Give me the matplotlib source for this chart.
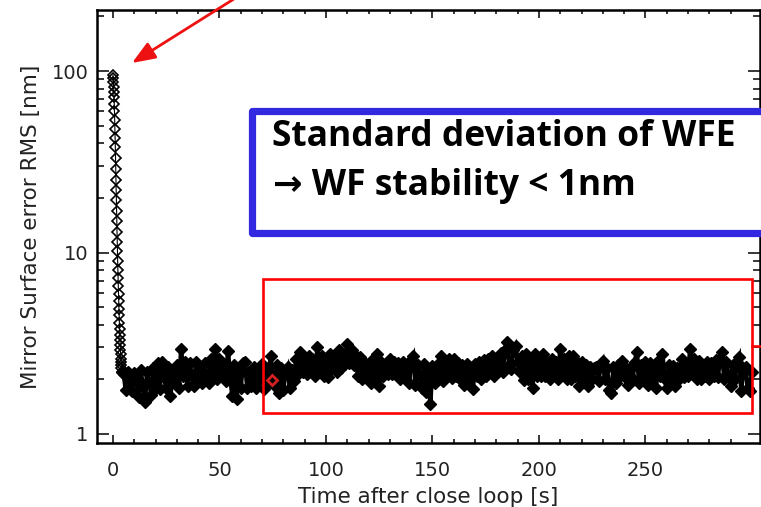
import matplotlib
matplotlib.use("Agg")
import matplotlib.pyplot as plt
import numpy as np
from matplotlib.patches import Rectangle
from matplotlib.lines import Line2D
from matplotlib.ticker import FixedLocator, NullFormatter

# closing transient, sampled every 0.1 s from t = 0
t_decay_start = 0.0
t_decay_step = 0.1
rms_decay = [95, 91, 87, 82, 77, 72, 66, 60, 54, 48,
             43, 38, 33, 29, 25, 22, 19.5, 17, 15, 13,
             11.5, 10.2, 9.0, 8.0, 7.2, 6.5, 5.9, 5.4, 4.9, 4.5,
             4.1, 3.8, 3.5, 3.3, 3.1, 2.9, 2.75, 2.6, 2.5, 2.4,
             2.3, 2.2]

# closed loop residual, one value per second from t = 5 s
t_loop_start = 5
rms_loop = [
    2.15, 1.75, 2.2, 1.95, 1.72, 2.18, 2.0, 1.6, 2.25, 1.85,
    1.5, 2.2, 1.9, 1.65, 2.3, 1.8, 2.45, 1.78, 2.5, 2.05,
    1.8, 2.35, 1.62, 2.2, 1.9, 2.4, 1.8, 2.95, 2.1, 2.5,
    1.85, 2.45, 2.1, 1.85, 2.5, 2.0, 2.35, 1.9, 2.45, 2.1,
    1.9, 2.6, 2.2, 2.95, 2.0, 2.6, 2.1, 2.4, 1.95, 2.87,
    2.1, 1.62, 2.4, 1.56, 2.2, 1.8, 2.45, 2.5, 1.8, 2.2,
    1.85, 2.34, 1.8, 2.25, 2.0, 2.43, 1.78, 2.3, 1.9, 2.7,
    2.0, 1.85, 2.4, 1.68, 2.3, 1.75, 2.2, 2.34, 1.8, 2.25,
    1.95, 2.6, 2.15, 2.84, 2.2, 2.6, 2.15, 2.7, 2.3, 2.5,
    2.1, 3.03, 2.3, 2.7, 2.1, 2.6, 2.05, 2.77, 2.3, 2.6,
    2.2, 2.9, 2.3, 2.7, 2.5, 3.14, 2.45, 2.9, 2.4, 2.7,
    2.1, 2.66, 2.0, 2.5, 2.2, 2.4, 1.9, 2.6, 2.1, 2.77,
    1.84, 2.5, 2.1, 2.4, 2.15, 2.6, 2.14, 2.5, 2.2, 2.45,
    2.0, 2.5, 2.05, 2.4, 1.9, 2.55, 2.7, 1.86, 2.4, 2.1,
    1.8, 2.43, 1.7, 2.2, 1.46, 2.37, 1.9, 2.4, 2.1, 2.7,
    1.96, 2.5, 2.2, 2.6, 2.04, 2.6, 2.1, 2.45, 2.0, 2.4,
    1.87, 2.43, 2.0, 2.3, 1.77, 2.43, 2.1, 2.5, 2.0, 2.56,
    2.1, 2.6, 2.2, 2.7, 2.1, 2.55, 2.3, 2.8, 2.2, 2.9,
    3.22, 2.4, 2.29, 2.9, 3.06, 2.5, 2.2, 2.7, 1.99, 2.77,
    2.0, 2.5, 1.8, 2.77, 2.1, 2.6, 2.1, 2.77, 2.09, 2.5,
    2.0, 2.6, 2.2, 2.5, 2.0, 2.95, 2.2, 2.6, 2.0, 2.7,
    2.0, 2.7, 2.1, 2.5, 1.85, 2.5, 2.0, 2.4, 1.84, 2.35,
    2.0, 2.3, 2.34, 1.95, 2.4, 2.53, 2.0, 2.3, 1.75, 1.68,
    2.34, 1.9, 2.4, 2.09, 2.53, 2.1, 2.3, 1.87, 2.34, 2.0,
    2.5, 2.84, 1.9, 2.4, 2.1, 2.5, 1.87, 2.45, 2.0, 2.3,
    1.8, 2.53, 2.1, 2.77, 2.0, 1.8, 2.4, 2.0, 2.37, 1.84,
    2.3, 2.0, 2.6, 2.05, 2.4, 2.1, 2.95, 2.2, 2.6, 2.0,
    2.53, 2.0, 2.4, 2.1, 2.5, 2.0, 2.45, 2.1, 2.55, 2.05,
    2.6, 2.84, 2.0, 2.5, 2.1, 1.84, 2.4, 2.0, 2.5, 2.66,
    1.73, 2.3, 2.34, 1.8, 1.73, 2.2]

# highlighted sample
marked_t = 74.5
marked_rms = 1.99

x_major = [0, 50, 100, 150, 200, 250]
y_major = [1, 10, 100]
y_major_labels = ["1", "10", "100"]

t_decay = t_decay_start + t_decay_step * np.arange(len(rms_decay))
t_loop = t_loop_start + np.arange(len(rms_loop))

W, H = 761, 507


def fx(x):
    return x / W


def fy(y):
    return (H - y) / H


fig = plt.figure(figsize=(W / 100, H / 100), dpi=100)
ax = fig.add_axes([fx(97), fy(443), (760 - 97) / W, (443 - 10) / H])

ax.plot(t_decay, rms_decay, color="black", lw=0.8, marker="D", ms=4.8,
        mfc="none", mec="black", mew=1.2)
# the loop samples are so dense that they merge into a solid band
ax.plot(np.r_[t_decay[-1], t_loop], np.r_[rms_decay[-1], rms_loop],
        color="black", lw=3.2, marker="D", ms=6.2, mfc="black",
        mec="black", mew=1.0, solid_joinstyle="miter")
ax.plot([marked_t], [marked_rms], marker="D", ms=5, mfc="none",
        mec="#d42020", mew=2.0, ls="none")

ax.set_yscale("log")
ax.set_xlim(-7.5, 303.8)
ax.set_ylim(0.892, 217)

ax.xaxis.set_major_locator(FixedLocator(x_major))
ax.xaxis.set_minor_locator(FixedLocator(np.arange(10, 300, 10)))
ax.yaxis.set_major_locator(FixedLocator(y_major))
ax.set_yticklabels(y_major_labels)
minor_y = [m * d for d in (1, 10, 100) for m in range(2, 10)]
ax.yaxis.set_minor_locator(FixedLocator(minor_y))
ax.yaxis.set_minor_formatter(NullFormatter())

ax.tick_params(which="both", direction="in", top=True, right=True,
               width=1.1, colors="black", labelcolor="#222222",
               labelsize=14)
ax.tick_params(axis="x", which="major", length=6, pad=13)
ax.tick_params(axis="x", which="minor", length=3)
ax.tick_params(axis="y", which="major", length=8.6, pad=6)
ax.tick_params(axis="y", which="minor", length=4.7)
for s in ax.spines.values():
    s.set_linewidth(1.8)

ax.set_xlabel("Time after close loop [s]", fontsize=15.5, color="#222222",
              labelpad=5)
ax.set_ylabel("Mirror Surface error RMS [nm]", fontsize=15.5,
              color="#222222", labelpad=8)

# slide overlays
ax.annotate("", xy=(132, H - 63), xycoords="figure pixels",
            xytext=(245, H + 8), textcoords="figure pixels",
            annotation_clip=False,
            arrowprops=dict(arrowstyle="-|>,head_length=1.4,head_width=0.55",
                            color="#ee1111", lw=2.0, shrinkA=0, shrinkB=0))

fig.add_artist(Rectangle((fx(263), fy(413)), (752 - 263) / W, (413 - 279) / H,
                         transform=fig.transFigure, fill=False,
                         edgecolor="#ff0000", lw=1.9, zorder=5))
fig.add_artist(Line2D([fx(752), fx(765)], [fy(346), fy(346)],
                      transform=fig.transFigure, color="#ff0000", lw=1.9,
                      zorder=5))

fig.add_artist(Rectangle((fx(252), fy(233)), (800 - 252) / W, (233 - 111) / H,
                         transform=fig.transFigure, facecolor="white",
                         edgecolor="#3228e0", lw=5.2, zorder=6,
                         joinstyle="round"))
box_font = ["Open Sans", "DejaVu Sans"]
fig.text(fx(272), fy(146), "Standard deviation of WFE", fontsize=25.5,
         fontweight="bold", family=box_font, va="baseline", zorder=7)
fig.text(fx(273), fy(195), "\u2192 WF stability < 1nm", fontsize=25.5,
         fontweight="bold", family=box_font, va="baseline", zorder=7)

fig.savefig("out.png", dpi=100)
